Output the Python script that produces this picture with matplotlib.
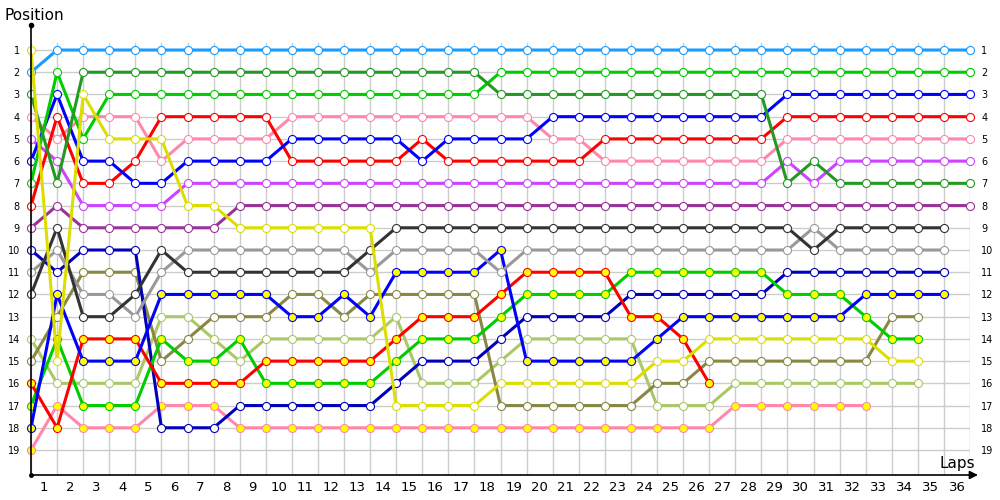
#Import all necessary libraries.
import numpy as np
from matplotlib import pyplot as plt

# Position of every car at the end of each lap (lap 0 = start grid)
light_blue = [2,1,1,1,1,1,1,1,1,1, 1,1,1,1,1,1,1,1,1,1, 1,1,1,1,1,1,1,1,1,1, 1,1,1,1,1,1,1]
dark_green = [3,7,2,2,2,2,2,2,2,2, 2,2,2,2,2,2,2,2,3,3, 3,3,3,3,3,3,3,3,3,7, 6,7,7,7,7,7,7]
green = [7,2,5,3,3,3,3,3,3,3, 3,3,3,3,3,3,3,3,2,2, 2,2,2,2,2,2,2,2,2,2, 2,2,2,2,2,2,2]
blue = [6,3,6,6,7,7,6,6,6,6, 5,5,5,5,5,6,5,5,5,5, 4,4,4,4,4,4,4,4,4,3, 3,3,3,3,3,3,3]
red = [8,4,7,7,6,4,4,4,4,4, 6,6,6,6,6,5,6,6,6,6, 6,6,5,5,5,5,5,5,5,4, 4,4,4,4,4,4,4]
pink = [4,5,4,4,4,6,5,5,5,5, 4,4,4,4,4,4,4,4,4,4, 5,5,6,6,6,6,6,6,6,5, 5,5,5,5,5,5,5]
purple = [5,6,8,8,8,8,7,7,7,7, 7,7,7,7,7,7,7,7,7,7, 7,7,7,7,7,7,7,7,7,6, 7,6,6,6,6,6,6]
dark_purple = [9,8,9,9,9,9,9,9,8,8, 8,8,8,8,8,8,8,8,8,8, 8,8,8,8,8,8,8,8,8,8, 8,8,8,8,8,8,8]
yellow = [1,15,3,5,5,5,8,8,9,9, 9,9,9,9,17,17,17,17,16,16, 16,16,16,16,15,15,14,14,14,14, 14,14,14,15,15]
black = [12,9,13,13,12,10,11,11,11,11, 11,11,11,10,9,9,9,9,9,9, 9,9,9,9,9,9,9,9,9,9, 10,9,9,9,9,9]
grey = [11,10,12,12,13,11,10,10,10,10, 10,10,10,11,10,10,10,10,11,10, 10,10,10,10,10,10,10,10,10,10, 9,10,10,10,10,10]
dark_blue = [10,11,10,10,10,18,18,18,17,17, 17,17,17,17,16,15,15,15,14,13, 13,13,13,12,12,12,12,12,12,11, 11,11,11,11,11,11]
olive = [15,13,11,11,11,15,14,13,13,13, 12,12,13,12,12,12,12,12,17,17, 17,17,17,17,16,16,15,15,15,15, 15,15,15,13,13]
light_olive = [14,16,16,16,16,13,13,14,15,14, 14,14,14,14,13,16,16,16,15,14, 14,14,14,14,17,17,17,16,16,16, 16,16,16,16,16]
# cars drawn with yellow filled markers
blue_y = [18,12,15,15,15,12,12,12,12,12, 13,13,12,13,11,11,11,11,10,15, 15,15,15,15,14,13,13,13,13,13, 13,13,12,12,12,12]
red_y = [16,18,14,14,14,16,16,16,16,15, 15,15,15,15,14,13,13,13,12,11, 11,11,11,13,13,14,16]
green_y = [17,14,17,17,17,14,15,15,14,16, 16,16,16,16,15,14,14,14,13,12, 12,12,12,11,11,11,11,11,11,12, 12,12,13,14,14]
pink_y = [19,17,18,18,18,17,17,17,18,18, 18,18,18,18,18,18,18,18,18,18, 18,18,18,18,18,18,18,17,17,17, 17,17,17]

n_laps = 36
n_positions = 19

# (data, line colour, marker fill)
cars = [
    (pink_y, '#ff88aa', '#ffff00'),
    (light_olive, '#aac866', 'white'),
    (olive, '#888844', 'white'),
    (dark_blue, '#0000bb', 'white'),
    (green_y, '#00cc00', '#ffff00'),
    (red_y, '#ff0000', '#ffff00'),
    (blue_y, '#0000ff', '#ffff00'),
    (grey, '#999999', 'white'),
    (black, '#333333', 'white'),
    (dark_purple, '#993399', 'white'),
    (purple, '#cc44ff', 'white'),
    (pink, '#ff88aa', 'white'),
    (red, '#ff0000', 'white'),
    (blue, '#0000ff', 'white'),
    (green, '#00cc00', 'white'),
    (dark_green, '#229922', 'white'),
    (light_blue, '#1a9cff', 'white'),
    (yellow, '#dddd00', 'white'),
]

fig = plt.figure(figsize=(10, 5), dpi=100)
ax = fig.add_axes([0.031, 0.05, 0.939, 0.9])
ax.set_xlim(0, n_laps)
ax.set_ylim(n_positions + 1.125, -0.125)

# grid
for k in range(n_laps + 1):
    ax.plot([k, k], [0.7, n_positions + 1.125], color='#cccccc', lw=1, zorder=1)
for p in range(1, n_positions + 1):
    ax.plot([0, n_laps], [p, p], color='#cccccc', lw=1, zorder=1)

# position lines
for z, (pos, col, fill) in enumerate(cars):
    laps = np.arange(len(pos))
    ax.plot(laps, pos, color=col, lw=2.2, marker='o', ms=5.8, mfc=fill, mec=col, mew=0.8,
            zorder=3 + z, clip_on=False)

# axes: plain left line with a dot, bottom arrow
for s in ax.spines.values():
    s.set_visible(False)
ax.plot([0, 0], [-0.125, n_positions + 1.125], color='black', lw=1.2, clip_on=False, zorder=30)
ax.plot([0], [-0.125], 'ko', ms=3, clip_on=False, zorder=30)
ax.plot([0], [n_positions + 1.125], 'ko', ms=2.5, clip_on=False, zorder=30)
ax.annotate('', xy=(1.0085, 0), xytext=(0, 0), xycoords='axes fraction',
            arrowprops=dict(arrowstyle='-|>', color='black', lw=1.2, mutation_scale=12,
                            shrinkA=0, shrinkB=0), zorder=30)

# ticks
ax.set_yticks(range(1, n_positions + 1))
ax.set_yticklabels([str(p) for p in range(1, n_positions + 1)])
ax.tick_params(axis='y', length=0, labelsize=7, pad=8, labelright=True)
ax.set_xticks(np.arange(n_laps) + 0.5)
ax.set_xticklabels([str(k) for k in range(1, n_laps + 1)])
ax.tick_params(axis='x', length=0, labelsize=9.5, pad=4)

fig.text(0.004, 0.96, 'Position', fontsize=11, ha='left', va='baseline')
fig.text(0.975, 0.064, 'Laps', fontsize=11, ha='right', va='baseline')

fig.savefig('out.png')
